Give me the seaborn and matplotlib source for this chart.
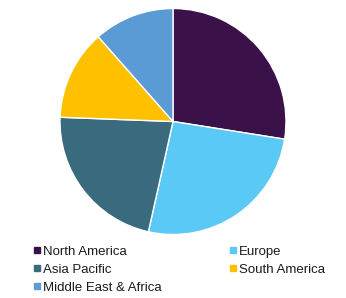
import matplotlib
matplotlib.use("Agg")
import matplotlib.pyplot as plt
from matplotlib.lines import Line2D
import seaborn as sns

regions = ["North America", "Europe", "Asia Pacific", "South America", "Middle East & Africa"]
shares = [27.5, 26.0, 22.1, 12.9, 11.5]
colors = ["#3A1149", "#5BC9F5", "#3A6A7E", "#FFC000", "#5B9BD5"]

sns.set_theme(style="white")
plt.rcParams["font.family"] = ["Liberation Sans", "DejaVu Sans"]

W, H = 346, 298
fig = plt.figure(figsize=(W / 100, H / 100), dpi=100)
cx, cy, r = 173, 121.5, 113
ax = fig.add_axes([(cx - r) / W, (H - cy - r) / H, 2 * r / W, 2 * r / H])
ax.pie(shares, colors=colors, startangle=90, counterclock=False, radius=1,
       wedgeprops=dict(edgecolor="white", linewidth=1))
ax.set_xlim(-1, 1)
ax.set_ylim(-1, 1)
ax.set_aspect("equal")
ax.axis("off")

handles = [Line2D([0], [0], marker="s", linestyle="", markersize=4.2,
                  markerfacecolor=c, markeredgecolor=c) for c in colors]
order = [0, 2, 4, 1, 3]  # row-major reading in a 2-column legend
fig.legend([handles[i] for i in order], [regions[i] for i in order], ncol=2,
           loc="upper left", bbox_to_anchor=(27 / W, 1 - 239 / H), frameon=False,
           fontsize=9.5, handlelength=0.5, handletextpad=0.25,
           columnspacing=5.1, labelspacing=0.43, borderpad=0,
           labelcolor="#1a1a1a")

fig.savefig("out.png", dpi=100)
